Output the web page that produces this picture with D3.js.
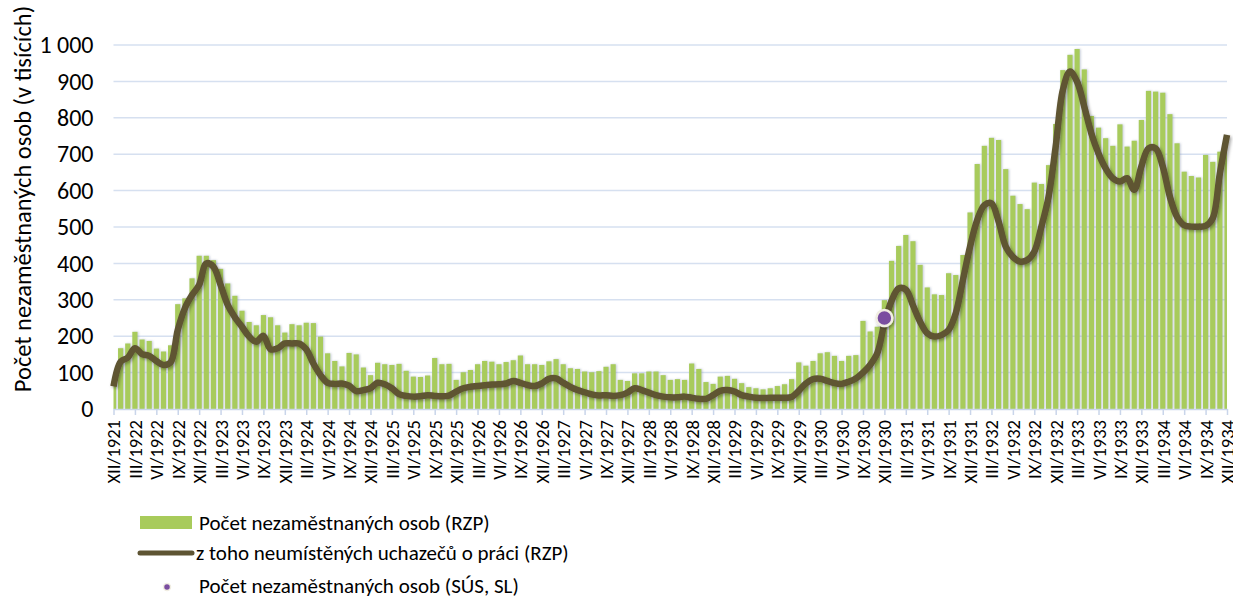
<!DOCTYPE html>
<html>
<head>
<meta charset="utf-8">
<script src="https://cdn.jsdelivr.net/npm/d3@7"></script>
<style>
  body { margin: 0; background: #fff; }
  svg text { font-family: Carlito, Lato, "Open Sans", sans-serif; fill: #000; }
</style>
</head>
<body>
<svg id="chart" width="1233" height="597"></svg>
<script>
// categories: monthly, XII/1921 .. XII/1934
var romans = ["I","II","III","IV","V","VI","VII","VIII","IX","X","XI","XII"];
var months = ["XII/1921"];
for (var yr = 1922; yr <= 1934; yr++) {
  romans.forEach(function(r) { months.push(r + "/" + yr); });
}

// Počet nezaměstnaných osob (RZP), thousands
var rzp = [85,167,180,212,191,187,166,158,175,288,304,359,421,421,409,385,345,311,270,239,
  230,258,252,230,210,233,230,237,236,199,153,132,117,154,150,114,93,127,123,121,
  124,105,89,88,92,140,123,124,80,101,107,123,132,130,123,129,134,147,123,123,
  121,131,137,123,112,110,103,101,104,116,123,80,77,98,98,103,103,93,80,82,
  80,125,110,74,69,89,91,83,71,60,57,54,57,63,68,82,128,119,132,153,
  156,146,132,146,148,242,213,226,299,407,448,478,461,396,334,315,313,373,368,423,
  540,673,723,745,739,659,586,563,549,622,618,670,783,931,973,989,933,805,773,744,
  723,782,721,737,794,874,872,869,810,730,652,640,636,698,679,707,730];

// z toho neumístěných uchazečů o práci (RZP)
var neumisteni = [62,130,141,167,151,146,132,121,128,217,277,313,341,400,391,341,286,252,226,199,
  185,201,164,167,180,180,180,164,125,93,72,69,70,64,49,52,57,72,68,57,
  41,36,34,35,38,36,35,37,48,57,61,63,65,67,68,70,77,72,66,63,
  70,83,84,72,61,52,46,40,37,38,36,38,45,57,52,45,38,34,32,32,
  34,31,28,28,38,50,52,48,38,34,31,30,31,31,31,33,50,70,82,83,
  77,71,69,75,84,100,121,153,235,297,331,328,285,240,208,199,203,217,263,354,
  446,519,560,565,515,446,418,405,409,432,501,583,721,876,927,899,831,757,702,661,
  634,625,634,602,666,716,716,666,583,528,505,501,501,503,524,647,753];

// Počet nezaměstnaných osob (SÚS, SL)
var susMonths = ["XII/1930"];
var susValues = [250];

var yTicks = [0,100,200,300,400,500,600,700,800,900,1000];
var xTicks = months.filter(function(d, i) { return i % 3 === 0; });

var plotLeft = 113.5, plotRight = 1227, plotTop = 45, plotBottom = 409;

var svg = d3.select("#chart");
var defs = svg.append("defs");
defs.append("clipPath").attr("id", "plotclip")
  .append("rect").attr("x", plotLeft).attr("y", 0)
  .attr("width", plotRight - plotLeft).attr("height", plotBottom + 1);
var sh = defs.append("filter").attr("id", "shadow")
  .attr("x", "-20%").attr("y", "-20%").attr("width", "140%").attr("height", "140%");
sh.append("feDropShadow").attr("dx", 1.5).attr("dy", 1.5).attr("stdDeviation", 1.5)
  .attr("flood-color", "#000").attr("flood-opacity", 0.35);
var bsh = defs.append("filter").attr("id", "barshadow");
bsh.append("feDropShadow").attr("dx", 1).attr("dy", 0).attr("stdDeviation", 0.8)
  .attr("flood-color", "#7c8aa8").attr("flood-opacity", 0.45);

var x = d3.scalePoint().domain(months).range([plotLeft, plotRight]);
var y = d3.scaleLinear().domain([0, 1000]).range([plotBottom, plotTop]);

// gridlines
svg.append("g").selectAll("line")
  .data(yTicks.filter(function(d) { return d > 0; }))
  .enter().append("line")
    .attr("x1", plotLeft).attr("x2", plotRight)
    .attr("y1", function(d) { return y(d); }).attr("y2", function(d) { return y(d); })
    .attr("stroke", "#d6e0f0").attr("stroke-width", 1.5);

// bars
svg.append("g").attr("clip-path", "url(#plotclip)").attr("filter", "url(#barshadow)")
  .selectAll("rect").data(rzp)
  .enter().append("rect")
    .attr("x", function(d, i) { return x(months[i]) - 2.6; })
    .attr("y", function(d) { return y(d); })
    .attr("width", 5.2)
    .attr("height", function(d) { return plotBottom - y(d); })
    .attr("fill", "#a8cb5b");

// x axis
var xAxis = svg.append("g")
  .attr("transform", "translate(0," + plotBottom + ")")
  .call(d3.axisBottom(x).tickValues(xTicks).tickSizeInner(6).tickSizeOuter(0));
xAxis.select(".domain").attr("stroke", "#c9d5ea").attr("stroke-width", 1.5);
xAxis.selectAll(".tick line").attr("stroke", "#c9d5ea").attr("stroke-width", 1.5);
xAxis.selectAll(".tick text")
  .attr("transform", "rotate(-90)")
  .attr("x", -11).attr("y", 0).attr("dy", "0.35em")
  .style("text-anchor", "end")
  .style("font-size", "18.5px");

// y axis labels
var yAxis = svg.append("g")
  .attr("transform", "translate(" + plotLeft + ",0)")
  .call(d3.axisLeft(y).tickValues(yTicks).tickSize(0).tickPadding(20)
    .tickFormat(function(d) { return d3.format(",")(d).replace(",", " "); }));
yAxis.select(".domain").remove();
yAxis.selectAll(".tick text").style("font-size", "24px");

svg.append("text")
  .attr("transform", "translate(22,199) rotate(-90)")
  .attr("text-anchor", "middle").attr("dy", "0.35em")
  .style("font-size", "24.5px")
  .text("Počet nezaměstnaných osob (v tisících)");

// line
var line = d3.line()
  .x(function(d, i) { return x(months[i]); })
  .y(function(d) { return y(d); })
  .curve(d3.curveCatmullRom);
svg.append("path").datum(neumisteni)
  .attr("d", line)
  .attr("fill", "none")
  .attr("stroke", "#5e5433")
  .attr("stroke-width", 6.5)
  .attr("stroke-linejoin", "round")
  .attr("filter", "url(#shadow)");

// SÚS point
svg.append("g").selectAll("circle").data(susValues)
  .enter().append("circle")
    .attr("cx", function(d, i) { return x(susMonths[i]); })
    .attr("cy", function(d) { return y(d); })
    .attr("r", 8)
    .attr("fill", "#7a4ea0")
    .attr("stroke", "#f1eee2").attr("stroke-width", 2.5)
    .attr("filter", "url(#shadow)");

// legend
var lg = svg.append("g");
lg.append("rect").attr("x", 140).attr("y", 516).attr("width", 52).attr("height", 13).attr("fill", "#a8cb5b");
lg.append("line").attr("x1", 140).attr("x2", 192).attr("y1", 553).attr("y2", 553)
  .attr("stroke", "#5e5433").attr("stroke-width", 5).attr("stroke-linecap", "round");
lg.append("circle").attr("cx", 167).attr("cy", 587).attr("r", 3.5)
  .attr("fill", "#7a4ea0").attr("stroke", "#f1eee2").attr("stroke-width", 1.5);
var legendNames = ["Počet nezaměstnaných osob (RZP)", "z toho neumístěných uchazečů o práci (RZP)", "Počet nezaměstnaných osob (SÚS, SL)"];
var legendY = [523, 553, 586];
lg.selectAll("text").data(legendNames)
  .enter().append("text")
    .attr("x", function(d, i) { return i === 1 ? 196 : 199; })
    .attr("y", function(d, i) { return legendY[i]; })
    .attr("dy", "0.35em")
    .style("font-size", "21px")
    .text(function(d) { return d; });
</script>
</body>
</html>
